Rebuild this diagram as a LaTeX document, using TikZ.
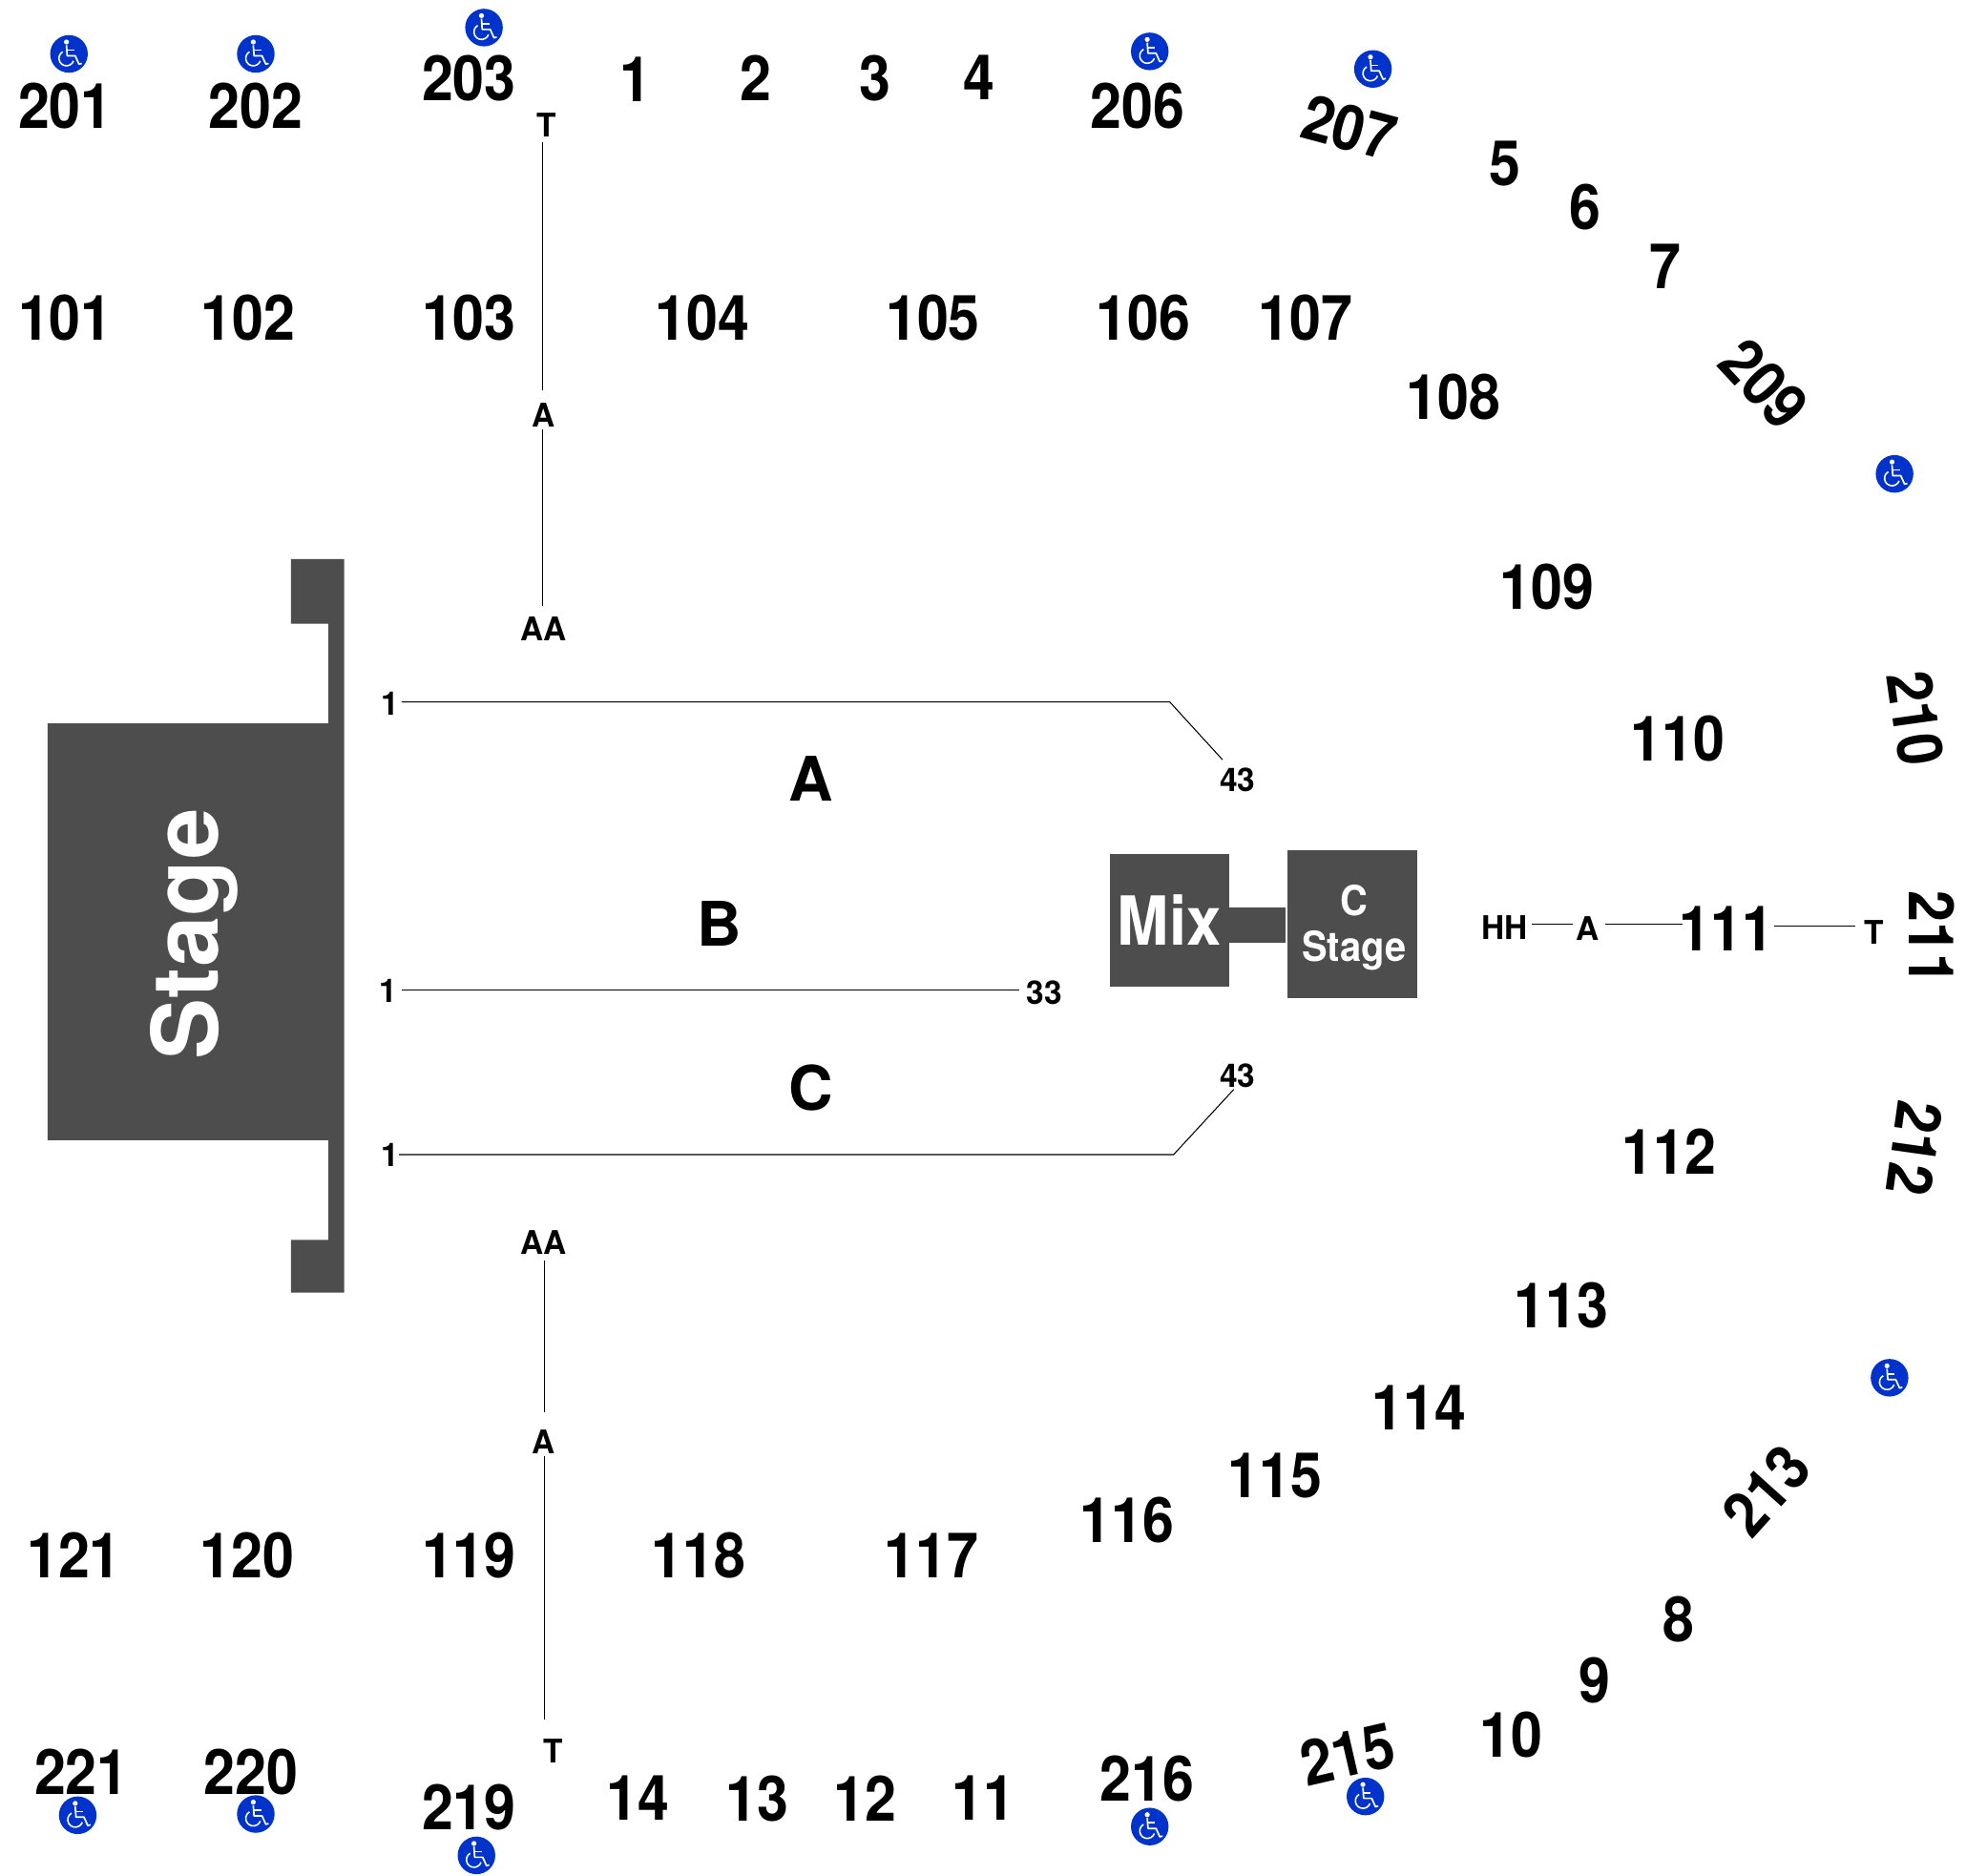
\documentclass[tikz,border=0pt]{standalone}
\usepackage{fontspec}
\setmainfont{TeX Gyre Heros}
\definecolor{stagegrey}{HTML}{4D4D4D}
\definecolor{accblue}{HTML}{0033CC}
\tikzset{
  x=1pt,y=-1pt,
  sec/.style={inner sep=0pt,font=\fontsize{50}{50}\selectfont\bfseries,xshift=1pt,yshift=.5pt,xscale=.9,text=black},
  rowletter/.style={inner sep=0pt,font=\fontsize{49}{49}\selectfont\bfseries,text=black},
  small/.style={inner sep=0pt,font=\fontsize{26}{26}\selectfont\bfseries,xshift=1pt,xscale=.98,text=black},
  conn/.style={draw=black,line width=.8pt},
  block/.style={fill=stagegrey,draw=none},
  onblock/.style={inner sep=0pt,text=white},
  wheelchair/.pic={
    \fill[accblue] (0,0) circle[radius=15];
    \fill[white] (-2,-9.5) circle[radius=2];
    \draw[white,line width=1.3pt,line join=round] (-2,-7) -- (-1.4,1.5) -- (5,1.5) -- (8,8.2) -- (10.2,7.6);
    \draw[white,line width=1.2pt] (-1.8,-3) -- (4.2,-3);
    \draw[white,line width=1.2pt] (-5,-1.7) arc[start angle=240,end angle=20,radius=6];
  }
}
\begin{document}
\begin{tikzpicture}
\useasboundingbox[fill=white] (0,0) rectangle (1568,1495.7);

% stage
\path[block] (232,446) -- (274.5,446) -- (274.5,1031) -- (232,1031) -- (232,989) -- (262,989) -- (262,909.5)
  -- (38,909.5) -- (38,577) -- (262,577) -- (262,497.5) -- (232,497.5) -- cycle;
\node[onblock,rotate=90,font=\fontsize{73}{73}\selectfont\bfseries] (stagelbl) at (155,745) {Stage};

% mix and C stage
\path[block] (980,724) rectangle (1025,752);
\node[block,minimum width=95pt,minimum height=106pt,inner sep=0pt] (mixbox) at (932.5,734) {};
\node[onblock,font=\fontsize{54}{54}\selectfont\bfseries,xscale=.92] (mixlbl) at (932.5,733.5) {Mix};
\node[block,minimum width=103pt,minimum height=118pt,inner sep=0pt] (cbox) at (1078.5,737) {};
\node[onblock,font=\fontsize{33}{33}\selectfont\bfseries,xscale=.92] (clbl) at (1080,718) {C};
\node[onblock,font=\fontsize{33}{33}\selectfont\bfseries,xscale=.92] (stagelblb) at (1080,758.5) {Stage};

% upper sections
\node[sec] (s201) at (51,85) {201};
\node[sec] (s202) at (203,85) {202};
\node[sec] (s203) at (373,63) {203};
\node[sec] (s1) at (506,64) {1};
\node[sec] (s2) at (602,63) {2};
\node[sec] (s3) at (697,63) {3};
\node[sec] (s4) at (780,62) {4};
\node[sec] (s206) at (906,85) {206};
\node[rotate=-15,sec] (s207) at (1075,102) {207};
\node[sec] (s5) at (1199,131) {5};
\node[sec] (s6) at (1263,166) {6};
\node[sec] (s7) at (1327,213) {7};
\node[rotate=-47,sec] (s209) at (1406,306) {209};
\node[sec] (s101) at (51,254) {101};
\node[sec] (s102) at (197,254) {102};
\node[sec] (s103) at (373,254) {103};
\node[sec] (s104) at (559,254) {104};
\node[sec] (s105) at (743,254) {105};
\node[sec] (s106) at (911,254) {106};
\node[sec] (s107) at (1040,254) {107};
\node[sec] (s108) at (1158,317) {108};
\node[sec] (s109) at (1233,469) {109};
\node[sec] (s110) at (1337,590) {110};
\node[sec] (s111) at (1376,741) {111};
\node[sec] (s112) at (1330,919) {112};
\node[sec] (s113) at (1244,1042) {113};
\node[sec] (s114) at (1131,1123) {114};
\node[sec] (s115) at (1016,1178) {115};
\node[sec] (s116) at (898,1213) {116};
\node[sec] (s117) at (742,1241) {117};
\node[sec] (s118) at (556,1241) {118};
\node[sec] (s119) at (373,1241) {119};
\node[sec] (s120) at (196,1241) {120};
\node[sec] (s121) at (58,1241) {121};
\node[sec] (s221) at (64,1414) {221};
\node[sec] (s220) at (199,1414) {220};
\node[sec] (s219) at (373,1442) {219};
\node[sec] (s14) at (508,1435) {14};
\node[sec] (s13) at (603,1435) {13};
\node[sec] (s12) at (689,1435) {12};
\node[sec] (s11) at (783,1435) {11};
\node[sec] (s216) at (914,1419) {216};
\node[rotate=13,sec] (s215) at (1074,1400) {215};
\node[sec] (s10) at (1204,1384) {10};
\node[sec] (s9) at (1271,1341) {9};
\node[sec] (s8) at (1338,1292) {8};
\node[rotate=48,sec] (s213) at (1409,1190) {213};
\node[rotate=-98,sec] (s212) at (1527,915) {212};
\node[rotate=-90,sec] (s211) at (1540,747) {211};
\node[rotate=-82,sec] (s210) at (1527,572) {210};

% row letters
\node[rowletter] (rowA) at (647,621) {A};
\node[rowletter] (rowB) at (573.5,737) {B};
\node[rowletter] (rowC) at (647,868) {C};

% small labels
\node[small] (uT) at (435,100) {T};
\node[small] (uA) at (432.5,331) {A};
\node[small] (uAA) at (432.5,502) {AA};
\node[small] (lAA) at (432.5,991) {AA};
\node[small] (lA) at (432.5,1150) {A};
\node[small] (lT) at (440,1397) {T};
\node[small] (ra1) at (310,561) {1};
\node[small] (rb1) at (309,790) {1};
\node[small] (rc1) at (310,921) {1};
\node[small] (ra43) at (986,622) {43};
\node[small] (rb33) at (832,792) {33};
\node[small] (rc43) at (986,858) {43};
\node[small] (hHH) at (1199,740) {HH};
\node[small] (hA) at (1265.5,741) {A};
\node[small] (hT) at (1494,744) {T};

% connector guides
\coordinate (ux) at (433,0);
\coordinate (lx) at (434,0);
\coordinate (rya) at (0,560);
\coordinate (ryb) at (0,790);
\coordinate (ryc) at (0,921);
\coordinate (hy) at (0,737);
\coordinate (hyb) at (0,739);
\coordinate (abend) at (933,560);
\coordinate (aend) at (975,606);
\coordinate (cbend) at (936,921);
\coordinate (cend) at (984,869);

\draw[conn,shorten <=4pt,shorten >=10pt] (uT.south -| ux) -- (uA.north -| ux);
\draw[conn,shorten <=2pt,shorten >=9pt] (uA.south -| ux) -- (uAA.north -| ux);
\draw[conn,shorten <=5pt,shorten >=14pt] (lAA.south -| lx) -- (lA.north -| lx);
\draw[conn,shorten <=2pt,shorten >=16pt] (lA.south -| lx) -- (lT.north -| lx);

\draw[conn,shorten <=2pt] (ra1.east |- rya) -- (abend) -- (aend);
\draw[conn,shorten <=3pt,shorten >=6pt] (rb1.east |- ryb) -- (rb33.west |- ryb);
\draw[conn] (rc1.east |- ryc) -- (cbend) -- (cend);

\draw[conn,shorten <=3pt,shorten >=3pt] (hHH.east |- hy) -- (hA.west |- hy);
\draw[conn,shorten <=4pt,shorten >=-3pt] (hA.east |- hy) -- (s111.west |- hy);
\draw[conn,shorten >=7pt] (s111.east |- hyb) -- (hT.west |- hyb);

% accessibility icons
\pic at (55,43) {wheelchair};
\pic at (204,43) {wheelchair};
\pic at (386,22) {wheelchair};
\pic at (917,41) {wheelchair};
\pic at (1095,55) {wheelchair};
\pic at (1511,378) {wheelchair};
\pic at (1507,1099) {wheelchair};
\pic at (1089,1433) {wheelchair};
\pic at (917,1457) {wheelchair};
\pic at (380,1480) {wheelchair};
\pic at (204,1447) {wheelchair};
\pic at (62,1448) {wheelchair};
\end{tikzpicture}
\end{document}
